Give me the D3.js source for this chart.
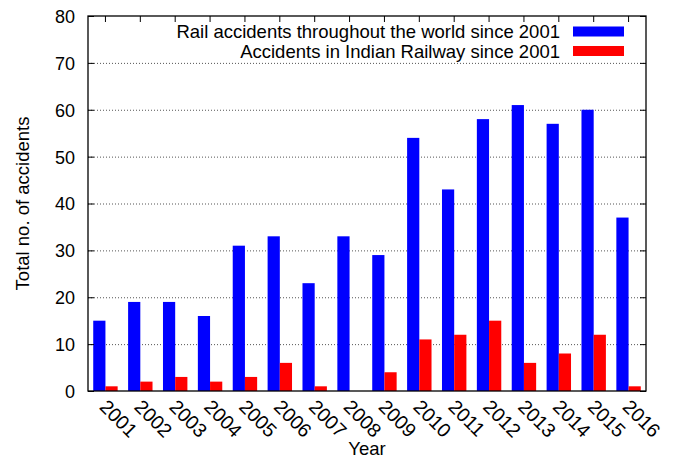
<!DOCTYPE html>
<html>
<head>
<meta charset="utf-8">
<script src="https://cdn.jsdelivr.net/npm/d3@7"></script>
<style>
  body { margin: 0; background: #fff; }
  text { font-family: "Liberation Sans", Arial, sans-serif; fill: #000; }
</style>
</head>
<body>
<script>
var years = ["2001", "2002", "2003", "2004", "2005", "2006", "2007", "2008",
             "2009", "2010", "2011", "2012", "2013", "2014", "2015", "2016"];
var world = [15, 19, 19, 16, 31, 33, 23, 33, 29, 54, 43, 58, 61, 57, 60, 37];
var india = [1, 2, 3, 2, 3, 6, 1, 0, 4, 11, 12, 15, 6, 8, 12, 1];
var seriesNames = ["Rail accidents throughout the world since 2001",
                   "Accidents in Indian Railway since 2001"];
var seriesColors = ["#0000ff", "#ff0000"];
var yTicks = [0, 10, 20, 30, 40, 50, 60, 70, 80];

var w = 678, h = 459;
var margin = {top: 16, bottom: 68, left: 88, right: 32};
var width = w - margin.left - margin.right;
var height = h - margin.top - margin.bottom;

var svg = d3.select("body").append("svg")
            .attr("width", w)
            .attr("height", h);

var chart = svg.append("g")
            .attr("transform", "translate(" + margin.left + "," + margin.top + ")");

var x = d3.scaleBand()
          .domain(years)
          .range([0, width])
          .paddingInner(0.3)
          .paddingOuter(0.15);

var xs = d3.scaleBand()
           .domain([0, 1])
           .range([0, x.bandwidth()]);

var y = d3.scaleLinear()
          .domain([0, 80])
          .range([height, 0]);

// gridlines
chart.append("g")
     .selectAll("line")
     .data(yTicks.filter(function(d){ return d > 0 && d < 80; }))
     .enter().append("line")
     .attr("x1", 0).attr("x2", width)
     .attr("y1", function(d){ return y(d) + 0.5; })
     .attr("y2", function(d){ return y(d) + 0.5; })
     .attr("stroke", "#555")
     .attr("stroke-width", 1)
     .attr("stroke-dasharray", "1,2");

// bars
var table = years.map(function(yr, i){ return {year: yr, vals: [world[i], india[i]]}; });

var groups = chart.selectAll(".group")
     .data(table)
     .enter().append("g")
     .attr("transform", function(d){ return "translate(" + x(d.year) + ",0)"; });

groups.selectAll("rect")
      .data(function(d){ return d.vals.map(function(v, k){ return {k: k, v: v}; }); })
      .enter().append("rect")
      .attr("x", function(d){ return xs(d.k); })
      .attr("width", xs.bandwidth())
      .attr("y", function(d){ return y(d.v); })
      .attr("height", function(d){ return height - y(d.v); })
      .attr("fill", function(d){ return seriesColors[d.k]; });

// axes (gnuplot style: ticks inside, mirrored)
var yLeft = d3.axisLeft(y).tickValues(yTicks).tickSizeInner(-6).tickSizeOuter(0).tickPadding(13);
var yRight = d3.axisRight(y).tickValues(yTicks).tickSizeInner(-6).tickSizeOuter(0).tickFormat("");
var xTop = d3.axisTop(x).tickSizeInner(-6).tickSizeOuter(0).tickFormat("");

var gl = chart.append("g").call(yLeft);
gl.selectAll("text").style("font-size", "18px").attr("dy", "0.36em");
chart.append("g").attr("transform", "translate(" + width + ",0)").call(yRight);
chart.append("g").call(xTop);
chart.selectAll(".domain").remove();
chart.selectAll(".tick line").attr("stroke", "#000");

// x tick labels, rotated
chart.append("g")
     .selectAll("text")
     .data(years)
     .enter().append("text")
     .attr("transform", function(d){
       return "translate(" + (x(d) + x.bandwidth() / 2 - 7) + "," + (height + 17) + ") rotate(45)";
     })
     .style("font-size", "19.5px")
     .text(function(d){ return d; });

// border
chart.append("rect")
     .attr("width", width)
     .attr("height", height)
     .attr("fill", "none")
     .attr("stroke", "#000")
     .attr("stroke-width", 1.3);

// axis titles
svg.append("text")
   .attr("transform", "translate(29," + (margin.top + height / 2) + ") rotate(-90)")
   .attr("text-anchor", "middle")
   .style("font-size", "18.5px")
   .text("Total no. of accidents");

svg.append("text")
   .attr("x", 367)
   .attr("y", 455)
   .attr("text-anchor", "middle")
   .style("font-size", "18.5px")
   .text("Year");

// legend
var legend = svg.append("g");
seriesNames.forEach(function(name, i){
  var ly = 38 + i * 19.5;
  legend.append("text")
        .attr("x", 560)
        .attr("y", ly)
        .attr("text-anchor", "end")
        .style("font-size", "18.5px")
        .text(name);
  legend.append("rect")
        .attr("x", 573)
        .attr("y", ly - 11.5)
        .attr("width", 51)
        .attr("height", 10)
        .attr("fill", seriesColors[i]);
});
</script>
</body>
</html>
